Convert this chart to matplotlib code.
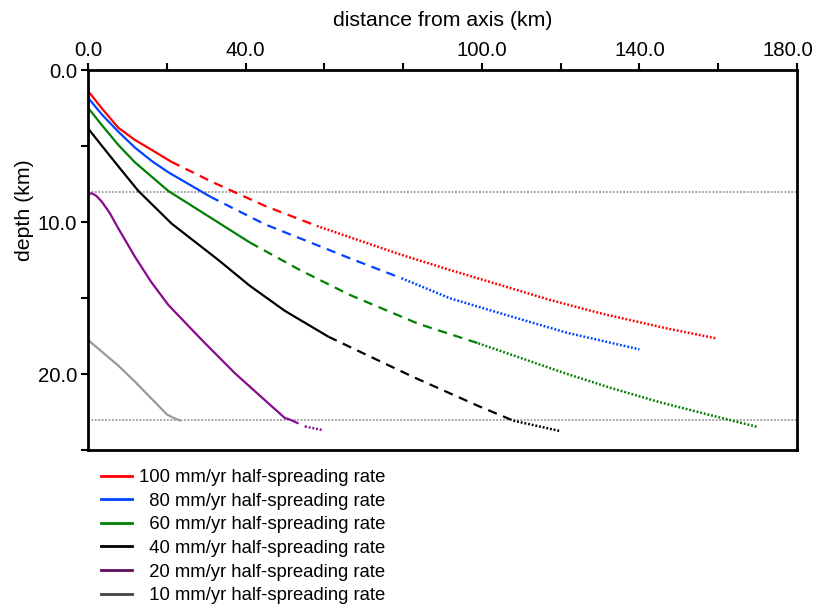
import matplotlib
matplotlib.use("Agg")
import matplotlib.pyplot as plt
from matplotlib.lines import Line2D
from matplotlib.transforms import ScaledTranslation

plt.rcParams['font.family'] = ['Liberation Sans', 'DejaVu Sans']

# ---- data (distance km, depth km) ----
red_solid_x = [0, 3.5, 7.7, 11.9, 16.2, 21.1]
red_solid_y = [1.38, 2.52, 3.8, 4.6, 5.26, 6.03]
red_dash_x = [21.1, 31.4, 45.0, 58.1]
red_dash_y = [6.03, 7.35, 8.95, 10.26]
red_dot_x = [58.1, 79.2, 91.9, 104.6, 117.3, 130.0, 146.9, 159.4]
red_dot_y = [10.26, 12.13, 13.16, 14.14, 15.13, 16.0, 17.0, 17.65]

blue_solid_x = [0, 3.5, 7.7, 11.9, 16.2, 20.4, 31.0]
blue_solid_y = [1.82, 2.92, 4.06, 5.1, 5.99, 6.73, 8.33]
blue_dash_x = [31.0, 44.9, 53.8, 66.5, 79.6]
blue_dash_y = [8.33, 10.15, 11.07, 12.39, 13.7]
blue_dot_x = [79.6, 91.9, 104.6, 121.5, 140.0]
blue_dot_y = [13.7, 15.02, 16.0, 17.28, 18.38]

green_solid_x = [0, 3.5, 7.7, 11.9, 20.4, 31.4, 41.1]
green_solid_y = [2.48, 3.62, 4.93, 6.07, 7.96, 9.76, 11.35]
green_dash_x = [41.1, 53.8, 66.5, 83.9, 99.1]
green_dash_y = [11.35, 13.16, 14.8, 16.7, 17.98]
green_dot_x = [99.1, 120.5, 132.5, 145.2, 157.9, 170.2]
green_dot_y = [17.98, 19.9, 20.9, 21.86, 22.7, 23.5]

black_solid_x = [0, 3.5, 7.7, 12.8, 21.2, 33.1, 41.1, 50.0, 61.0]
black_solid_y = [3.84, 4.98, 6.34, 7.96, 10.1, 12.5, 14.2, 15.85, 17.54]
black_dash_x = [61.0, 69.9, 82.6, 99.5, 108.0]
black_dash_y = [17.54, 18.64, 20.2, 22.15, 23.07]
black_dot_x = [108.0, 119.8]
black_dot_y = [23.07, 23.75]

purple_solid_x = [0, 0.9, 2.0, 3.5, 5.5, 7.7, 11.9, 16.0, 20.4, 28.9, 37.3, 45.8, 50.0, 51.3]
purple_solid_y = [8.18, 8.11, 8.25, 8.66, 9.4, 10.42, 12.28, 13.93, 15.46, 17.76, 19.95, 21.93, 22.9, 23.0]
purple_dash_x = [51.3, 55.1]
purple_dash_y = [23.0, 23.45]
purple_dot_x = [55.1, 59.7]
purple_dot_y = [23.45, 23.7]

gray_solid_x = [0, 7.7, 11.9, 20.0, 21.4]
gray_solid_y = [17.76, 19.45, 20.5, 22.65, 22.85]
gray_dash_x = [21.4, 25.1]
gray_dash_y = [22.85, 23.24]

ref_depths = [8.0, 23.0]

x_ticks = [0, 20, 40, 60, 80, 100, 120, 140, 160, 180]
x_labels = ['0.0', '', '40.0', '', '', '100.0', '', '140.0', '', '180.0']
y_ticks = [0, 5, 10, 15, 20, 25]
y_labels = ['0.0', '', '10.0', '', '20.0', '']

legend_labels = ['100 mm/yr half-spreading rate', '  80 mm/yr half-spreading rate',
                 '  60 mm/yr half-spreading rate', '  40 mm/yr half-spreading rate',
                 '  20 mm/yr half-spreading rate', '  10 mm/yr half-spreading rate']
legend_colors = ['#ff0000', '#0044ff', '#008000', '#000000', '#5c0a5c', '#444444']

# ---- figure ----
fig = plt.figure(figsize=(8.14, 6.07), dpi=100)
ax = fig.add_axes([88/814, 1-450/607, (797-88)/814, (450-70)/607])

lw = 1.6
series = [
    ('#ff0000', red_solid_x, red_solid_y, red_dash_x, red_dash_y, red_dot_x, red_dot_y),
    ('#0044ff', blue_solid_x, blue_solid_y, blue_dash_x, blue_dash_y, blue_dot_x, blue_dot_y),
    ('#008000', green_solid_x, green_solid_y, green_dash_x, green_dash_y, green_dot_x, green_dot_y),
    ('#000000', black_solid_x, black_solid_y, black_dash_x, black_dash_y, black_dot_x, black_dot_y),
    ('#8b0a8b', purple_solid_x, purple_solid_y, purple_dash_x, purple_dash_y, purple_dot_x, purple_dot_y),
    ('#999999', gray_solid_x, gray_solid_y, gray_dash_x, gray_dash_y, None, None),
]
for c, sx, sy, dx, dy, ox, oy in series:
    ax.plot(sx, sy, color=c, lw=lw, solid_capstyle='butt', solid_joinstyle='round')
    ax.plot(dx, dy, color=c, lw=lw, dashes=(4.2, 3.0), dash_capstyle='butt')
    if ox is not None:
        ax.plot(ox, oy, color=c, lw=1.8, dashes=(0.75, 0.75), dash_capstyle='butt')

for d in ref_depths:
    ax.axhline(d, color='#999999', lw=1.3, dashes=(1, 0.9), zorder=0)

ax.set_xlim(0, 180)
ax.set_ylim(25, 0)
ax.xaxis.tick_top()
ax.xaxis.set_label_position('top')
ax.set_xticks(x_ticks)
ax.set_xticklabels(x_labels)
ax.set_yticks(y_ticks)
ax.set_yticklabels(y_labels)
ax.tick_params(axis='both', direction='out', length=5, width=1.5, labelsize=14.7, pad=2)
ax.tick_params(axis='y', pad=3)
for s in ax.spines.values():
    s.set_linewidth(2)

# shift the last top label left so it fits inside the figure
lab = ax.get_xticklabels()[-1]
lab.set_transform(lab.get_transform() + ScaledTranslation(-9/100, 0, fig.dpi_scale_trans))

ax.set_xlabel('distance from axis (km)', fontsize=15.3, labelpad=11)
ax.set_ylabel('depth (km)', fontsize=15.3)
ax.yaxis.set_label_coords(-0.076, 0.63)

handles = [Line2D([0], [0], color=c, lw=2) for c in legend_colors]
fig.legend(handles, legend_labels, loc='upper left', bbox_to_anchor=(101/814, 1-469/607),
           frameon=False, fontsize=13.3, handlelength=1.68, handletextpad=0.4,
           labelspacing=0.36, borderaxespad=0, borderpad=0)

fig.savefig('out.png', dpi=100)
